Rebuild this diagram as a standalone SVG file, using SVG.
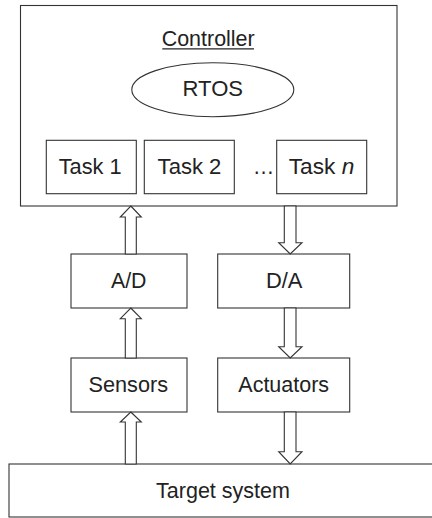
<svg xmlns="http://www.w3.org/2000/svg" width="432" height="518" viewBox="0 0 432 518">
  <style>
    .box { fill: #fff; stroke: #333; stroke-width: 1.1; }
    .arrow { fill: #fff; stroke: #333; stroke-width: 1.1; stroke-linejoin: miter; }
    .label { font-family: "Liberation Sans", Arial, Helvetica, sans-serif; font-size: 21.6px; fill: #222; text-anchor: middle; }
  </style>
  <rect width="432" height="518" fill="#fff"/>

  <!-- Controller with RTOS and tasks -->
  <g id="controller">
    <rect class="box" x="20.5" y="5.5" width="376.5" height="200.5"/>
    <text class="label" x="208.2" y="46" textLength="93" lengthAdjust="spacingAndGlyphs">Controller</text>
    <line x1="162.3" y1="48.8" x2="254" y2="48.8" stroke="#222" stroke-width="1.2"/>
  </g>
  <g id="rtos">
    <ellipse class="box" cx="212.8" cy="89.7" rx="81" ry="27"/>
    <text class="label" x="212.8" y="96" textLength="60.5" lengthAdjust="spacingAndGlyphs">RTOS</text>
  </g>
  <g id="task1">
    <rect class="box" x="46.3" y="140.3" width="90" height="53.4"/>
    <text class="label" x="90.2" y="174.3" textLength="63" lengthAdjust="spacingAndGlyphs">Task 1</text>
  </g>
  <g id="task2">
    <rect class="box" x="144.3" y="140.3" width="90" height="53.4"/>
    <text class="label" x="189.5" y="174.3" textLength="63.8" lengthAdjust="spacingAndGlyphs">Task 2</text>
  </g>
  <g id="ellipsis">
    <text class="label" x="263.5" y="174.3">…</text>
  </g>
  <g id="taskn">
    <rect class="box" x="276.7" y="140.3" width="90" height="53.4"/>
    <text class="label" x="321.5" y="174.3" textLength="65.5" lengthAdjust="spacingAndGlyphs">Task <tspan font-style="italic">n</tspan></text>
  </g>

  <!-- Converters -->
  <g id="ad">
    <rect class="box" x="71" y="254" width="116" height="54"/>
    <text class="label" x="128.7" y="288.3" textLength="35.5" lengthAdjust="spacingAndGlyphs">A/D</text>
  </g>
  <g id="da">
    <rect class="box" x="217.7" y="254" width="132" height="54"/>
    <text class="label" x="284.2" y="288.3" textLength="36.5" lengthAdjust="spacingAndGlyphs">D/A</text>
  </g>

  <!-- Sensors and actuators -->
  <g id="sensors">
    <rect class="box" x="71" y="358" width="116" height="54"/>
    <text class="label" x="128.3" y="392.3" textLength="79.5" lengthAdjust="spacingAndGlyphs">Sensors</text>
  </g>
  <g id="actuators">
    <rect class="box" x="217.7" y="358" width="132" height="54"/>
    <text class="label" x="283.7" y="392.3" textLength="90.8" lengthAdjust="spacingAndGlyphs">Actuators</text>
  </g>

  <!-- Plant -->
  <g id="target">
    <rect class="box" x="9" y="464" width="440" height="53"/>
    <text class="label" x="223" y="498.3" textLength="134" lengthAdjust="spacingAndGlyphs">Target system</text>
  </g>

  <!-- Block arrows between stages -->
  <g id="connectors">
    <polygon class="arrow" points="130.8,206 141.3,217 136.3,217 136.3,254 125.3,254 125.3,217 120.3,217"/>
    <polygon class="arrow" points="130.8,308 141.3,318.7 136.3,318.7 136.3,358 125.3,358 125.3,318.7 120.3,318.7"/>
    <polygon class="arrow" points="130.8,412 141.3,422 136.3,422 136.3,464 125.3,464 125.3,422 120.3,422"/>
    <polygon class="arrow" points="284.3,206 296,206 296,242.7 302,242.7 290.2,254 278.7,242.7 284.3,242.7"/>
    <polygon class="arrow" points="284.3,308 296,308 296,346.7 302,346.7 290.2,358 278.7,346.7 284.3,346.7"/>
    <polygon class="arrow" points="284.3,412 296,412 296,451.7 302,451.7 290.2,464 278.7,451.7 284.3,451.7"/>
  </g>
</svg>
